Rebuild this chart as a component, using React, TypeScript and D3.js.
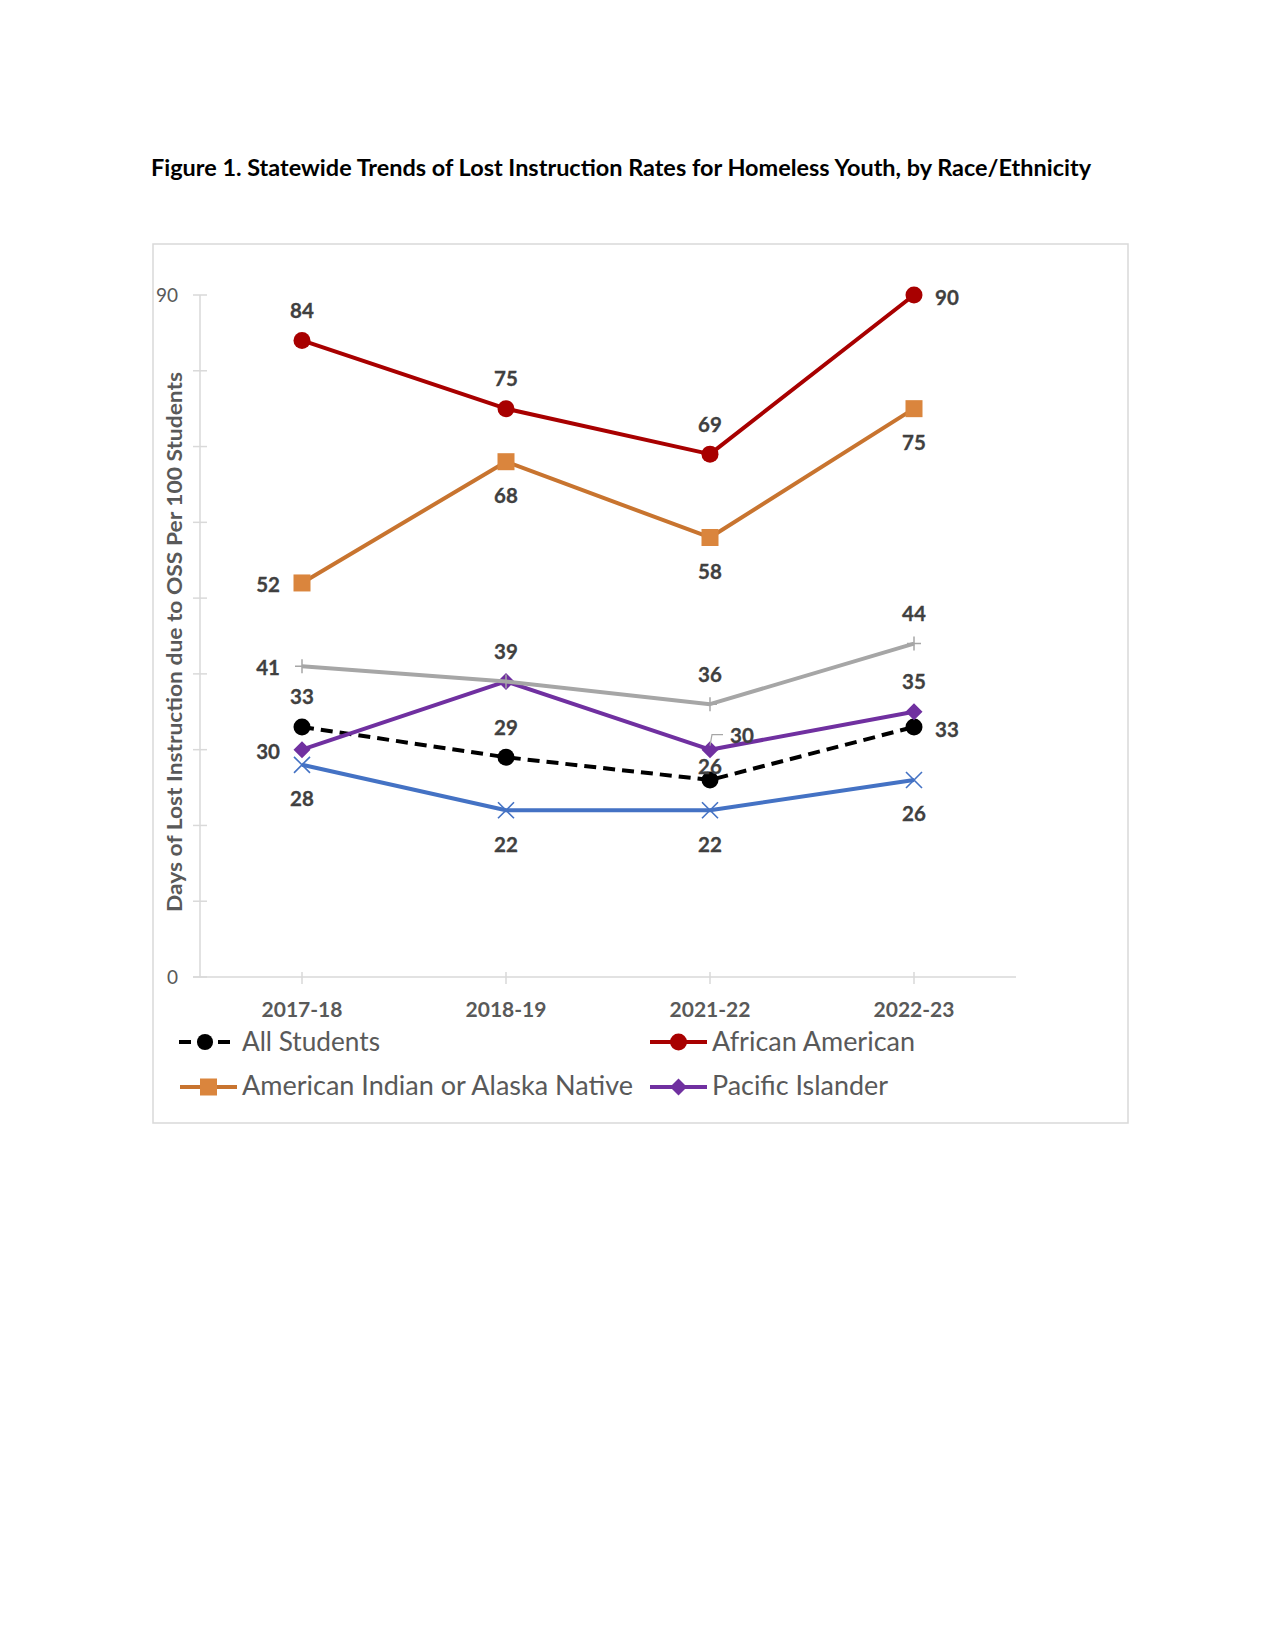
import React from "react";
import * as d3 from "d3";

const categories = ["2017-18", "2018-19", "2021-22", "2022-23"];
const allStudents = [33, 29, 26, 33];
const africanAmerican = [84, 75, 69, 90];
const americanIndian = [52, 68, 58, 75];
const pacificIslander = [30, 39, 30, 35];
const seriesGrey = [41, 39, 36, 44];
const seriesBlue = [28, 22, 22, 26];
const yTickValues = [0, 10, 20, 30, 40, 50, 60, 70, 80, 90];
const yTickLabels = [0, 90];

const FONT = "Lato, 'Open Sans', 'Liberation Sans', sans-serif";
const LABEL = "#404040";
const AXIS = "#595959";
const GRID = "#D9D9D9";

type Pos = "above" | "below" | "left" | "right" | "close" | "leader" | "none";

const series = [
  { name: "All Students", values: allStudents, color: "#000000", marker: "circle", dash: "12,7", pos: ["above", "above", "close", "right"] as Pos[] },
  { name: "African American", values: africanAmerican, color: "#A80000", marker: "circle", dash: null, pos: ["above", "above", "above", "right"] as Pos[] },
  { name: "American Indian or Alaska Native", values: americanIndian, color: "#C8742F", markerColor: "#DA853D", marker: "square", dash: null, pos: ["left", "below", "below", "below"] as Pos[] },
  { name: "Pacific Islander", values: pacificIslander, color: "#7030A0", marker: "diamond", dash: null, pos: ["left", "none", "leader", "above"] as Pos[] },
  { name: "grey", values: seriesGrey, color: "#A6A6A6", marker: "plus", dash: null, pos: ["left", "above", "above", "above"] as Pos[] },
  { name: "blue", values: seriesBlue, color: "#4472C4", marker: "x", dash: null, pos: ["below", "below", "below", "below"] as Pos[] },
];

const x = d3.scaleBand<string>().domain(categories).range([200, 1016]).padding(0);
const cx = (c: string) => (x(c) as number) + x.bandwidth() / 2;
const y = d3.scaleLinear().domain([0, 90]).range([977, 295]);

function Marker({ kind, px, py, color, size = 1 }: { kind: string; px: number; py: number; color: string; size?: number }) {
  if (kind === "circle") return <circle cx={px} cy={py} r={8.5 * size} fill={color} />;
  if (kind === "square") {
    const s = 17 * size;
    return <rect x={px - s / 2} y={py - s / 2} width={s} height={s} fill={color} />;
  }
  if (kind === "diamond") {
    const h = 8.5 * size;
    return <path d={`M${px},${py - h}L${px + h},${py}L${px},${py + h}L${px - h},${py}Z`} fill={color} />;
  }
  if (kind === "plus") {
    const h = 7;
    return <path d={`M${px - h},${py}H${px + h}M${px},${py - h}V${py + h}`} stroke={color} strokeWidth={1.5} fill="none" />;
  }
  if (kind === "x") {
    const h = 8;
    return <path d={`M${px - h},${py - h}L${px + h},${py + h}M${px - h},${py + h}L${px + h},${py - h}`} stroke={color} strokeWidth={1.6} fill="none" />;
  }
  return null;
}

export default function App() {
  const line = d3.line<[number, number]>().x((d) => d[0]).y((d) => d[1]);

  const labels: React.ReactNode[] = [];
  series.forEach((s, si) => {
    s.values.forEach((v, i) => {
      const px = cx(categories[i]);
      const py = y(v);
      const p = s.pos[i];
      if (p === "none") return;
      let lx = px, ly = py, anchor: "middle" | "start" | "end" = "middle";
      if (p === "above") ly = py - 30;
      else if (p === "below") ly = py + 34;
      else if (p === "close") ly = py - 13;
      else if (p === "left") { lx = px - 22; anchor = "end"; ly = py + 1.5; }
      else if (p === "right") { lx = px + 21; anchor = "start"; ly = py + 3; }
      else if (p === "leader") { lx = px + 20; anchor = "start"; ly = py - 14; }
      if (p === "leader") {
        labels.push(
          <path key={`ld-${si}-${i}`} d={`M${px},${py - 4}L${px + 2},${py - 15}H${px + 13}`} stroke="#A6A6A6" strokeWidth={1.2} fill="none" />
        );
      }
      labels.push(
        <text key={`lb-${si}-${i}`} x={lx} y={ly} dy="0.36em" textAnchor={anchor} fontFamily={FONT} fontWeight={700} fontSize={20.5} fill={LABEL} stroke={LABEL} strokeWidth={0.3}>
          {v}
        </text>
      );
    });
  });

  const legend = [
    { s: series[0], lx: 179, ly: 1042, tx: 242, tw: 138, base: 1051 },
    { s: series[1], lx: 650, ly: 1042, tx: 712, tw: 203, base: 1051 },
    { s: series[2], lx: 180, ly: 1087, tx: 242, tw: 391, base: 1095 },
    { s: series[3], lx: 650, ly: 1087, tx: 712, tw: 176, base: 1095 },
  ];

  return (
    <svg width={1275} height={1650} style={{ position: "absolute", left: 0, top: 0, background: "#fff" }}>
      <rect x={0} y={0} width={1275} height={1650} fill="#fff" />
      <text x={151} y={176} fontFamily={FONT} fontWeight={700} fontSize={23.5} fill="#000" textLength={940} lengthAdjust="spacingAndGlyphs">
        Figure 1. Statewide Trends of Lost Instruction Rates for Homeless Youth, by Race/Ethnicity
      </text>

      <rect x={153} y={244} width={975} height={879} fill="none" stroke={GRID} strokeWidth={1.5} />

      {/* Y axis */}
      <line x1={200} x2={200} y1={y(90)} y2={y(0)} stroke={GRID} strokeWidth={1.5} />
      {yTickValues.map((t) => (
        <line key={`yt${t}`} x1={193} x2={207} y1={y(t)} y2={y(t)} stroke={GRID} strokeWidth={1.5} />
      ))}
      {yTickLabels.map((t) => (
        <text key={`yl${t}`} x={178} y={y(t)} dy="0.36em" textAnchor="end" fontFamily={FONT} fontSize={19} fill={AXIS}>
          {t}
        </text>
      ))}
      <text transform="translate(182,642) rotate(-90)" textAnchor="middle" fontFamily={FONT} fontWeight={700} fontSize={21} fill={AXIS} textLength={540} lengthAdjust="spacingAndGlyphs">
        Days of Lost Instruction due to OSS Per 100 Students
      </text>

      {/* X axis */}
      <line x1={193} x2={1016} y1={y(0)} y2={y(0)} stroke={GRID} strokeWidth={1.5} />
      {categories.map((c) => (
        <g key={c}>
          <line x1={cx(c)} x2={cx(c)} y1={y(0) - 5} y2={y(0) + 7} stroke={GRID} strokeWidth={1.5} />
          <text x={cx(c)} y={1017} textAnchor="middle" fontFamily={FONT} fontWeight={700} fontSize={21} fill={AXIS} textLength={81} lengthAdjust="spacingAndGlyphs">
            {c}
          </text>
        </g>
      ))}

      {/* Series */}
      {series.map((s, si) => {
        const pts = s.values.map((v, i) => [cx(categories[i]), y(v)] as [number, number]);
        return (
          <g key={`s${si}`}>
            <path d={line(pts) as string} fill="none" stroke={s.color} strokeWidth={4} strokeDasharray={s.dash ?? undefined} strokeLinejoin="round" />
            {pts.map((p, i) => (
              <Marker key={i} kind={s.marker} px={p[0]} py={p[1]} color={(s as any).markerColor ?? s.color} />
            ))}
          </g>
        );
      })}

      {labels}

      {/* Legend */}
      {legend.map((l, i) => (
        <g key={`lg${i}`}>
          {l.s.dash ? (
            <g>
              <line x1={l.lx} x2={l.lx + 12} y1={l.ly} y2={l.ly} stroke={l.s.color} strokeWidth={4} />
              <line x1={l.lx + 39} x2={l.lx + 51} y1={l.ly} y2={l.ly} stroke={l.s.color} strokeWidth={4} />
            </g>
          ) : (
            <line x1={l.lx} x2={l.lx + 57} y1={l.ly} y2={l.ly} stroke={l.s.color} strokeWidth={4} />
          )}
          <Marker kind={l.s.marker} px={l.lx + (l.s.dash ? 26 : 28.5)} py={l.ly} color={(l.s as any).markerColor ?? l.s.color} size={l.s.dash ? 0.95 : 1} />
          <text x={l.tx} y={l.base} fontFamily={FONT} fontSize={26} fill={AXIS} textLength={l.tw} lengthAdjust="spacingAndGlyphs">
            {l.s.name}
          </text>
        </g>
      ))}
    </svg>
  );
}
